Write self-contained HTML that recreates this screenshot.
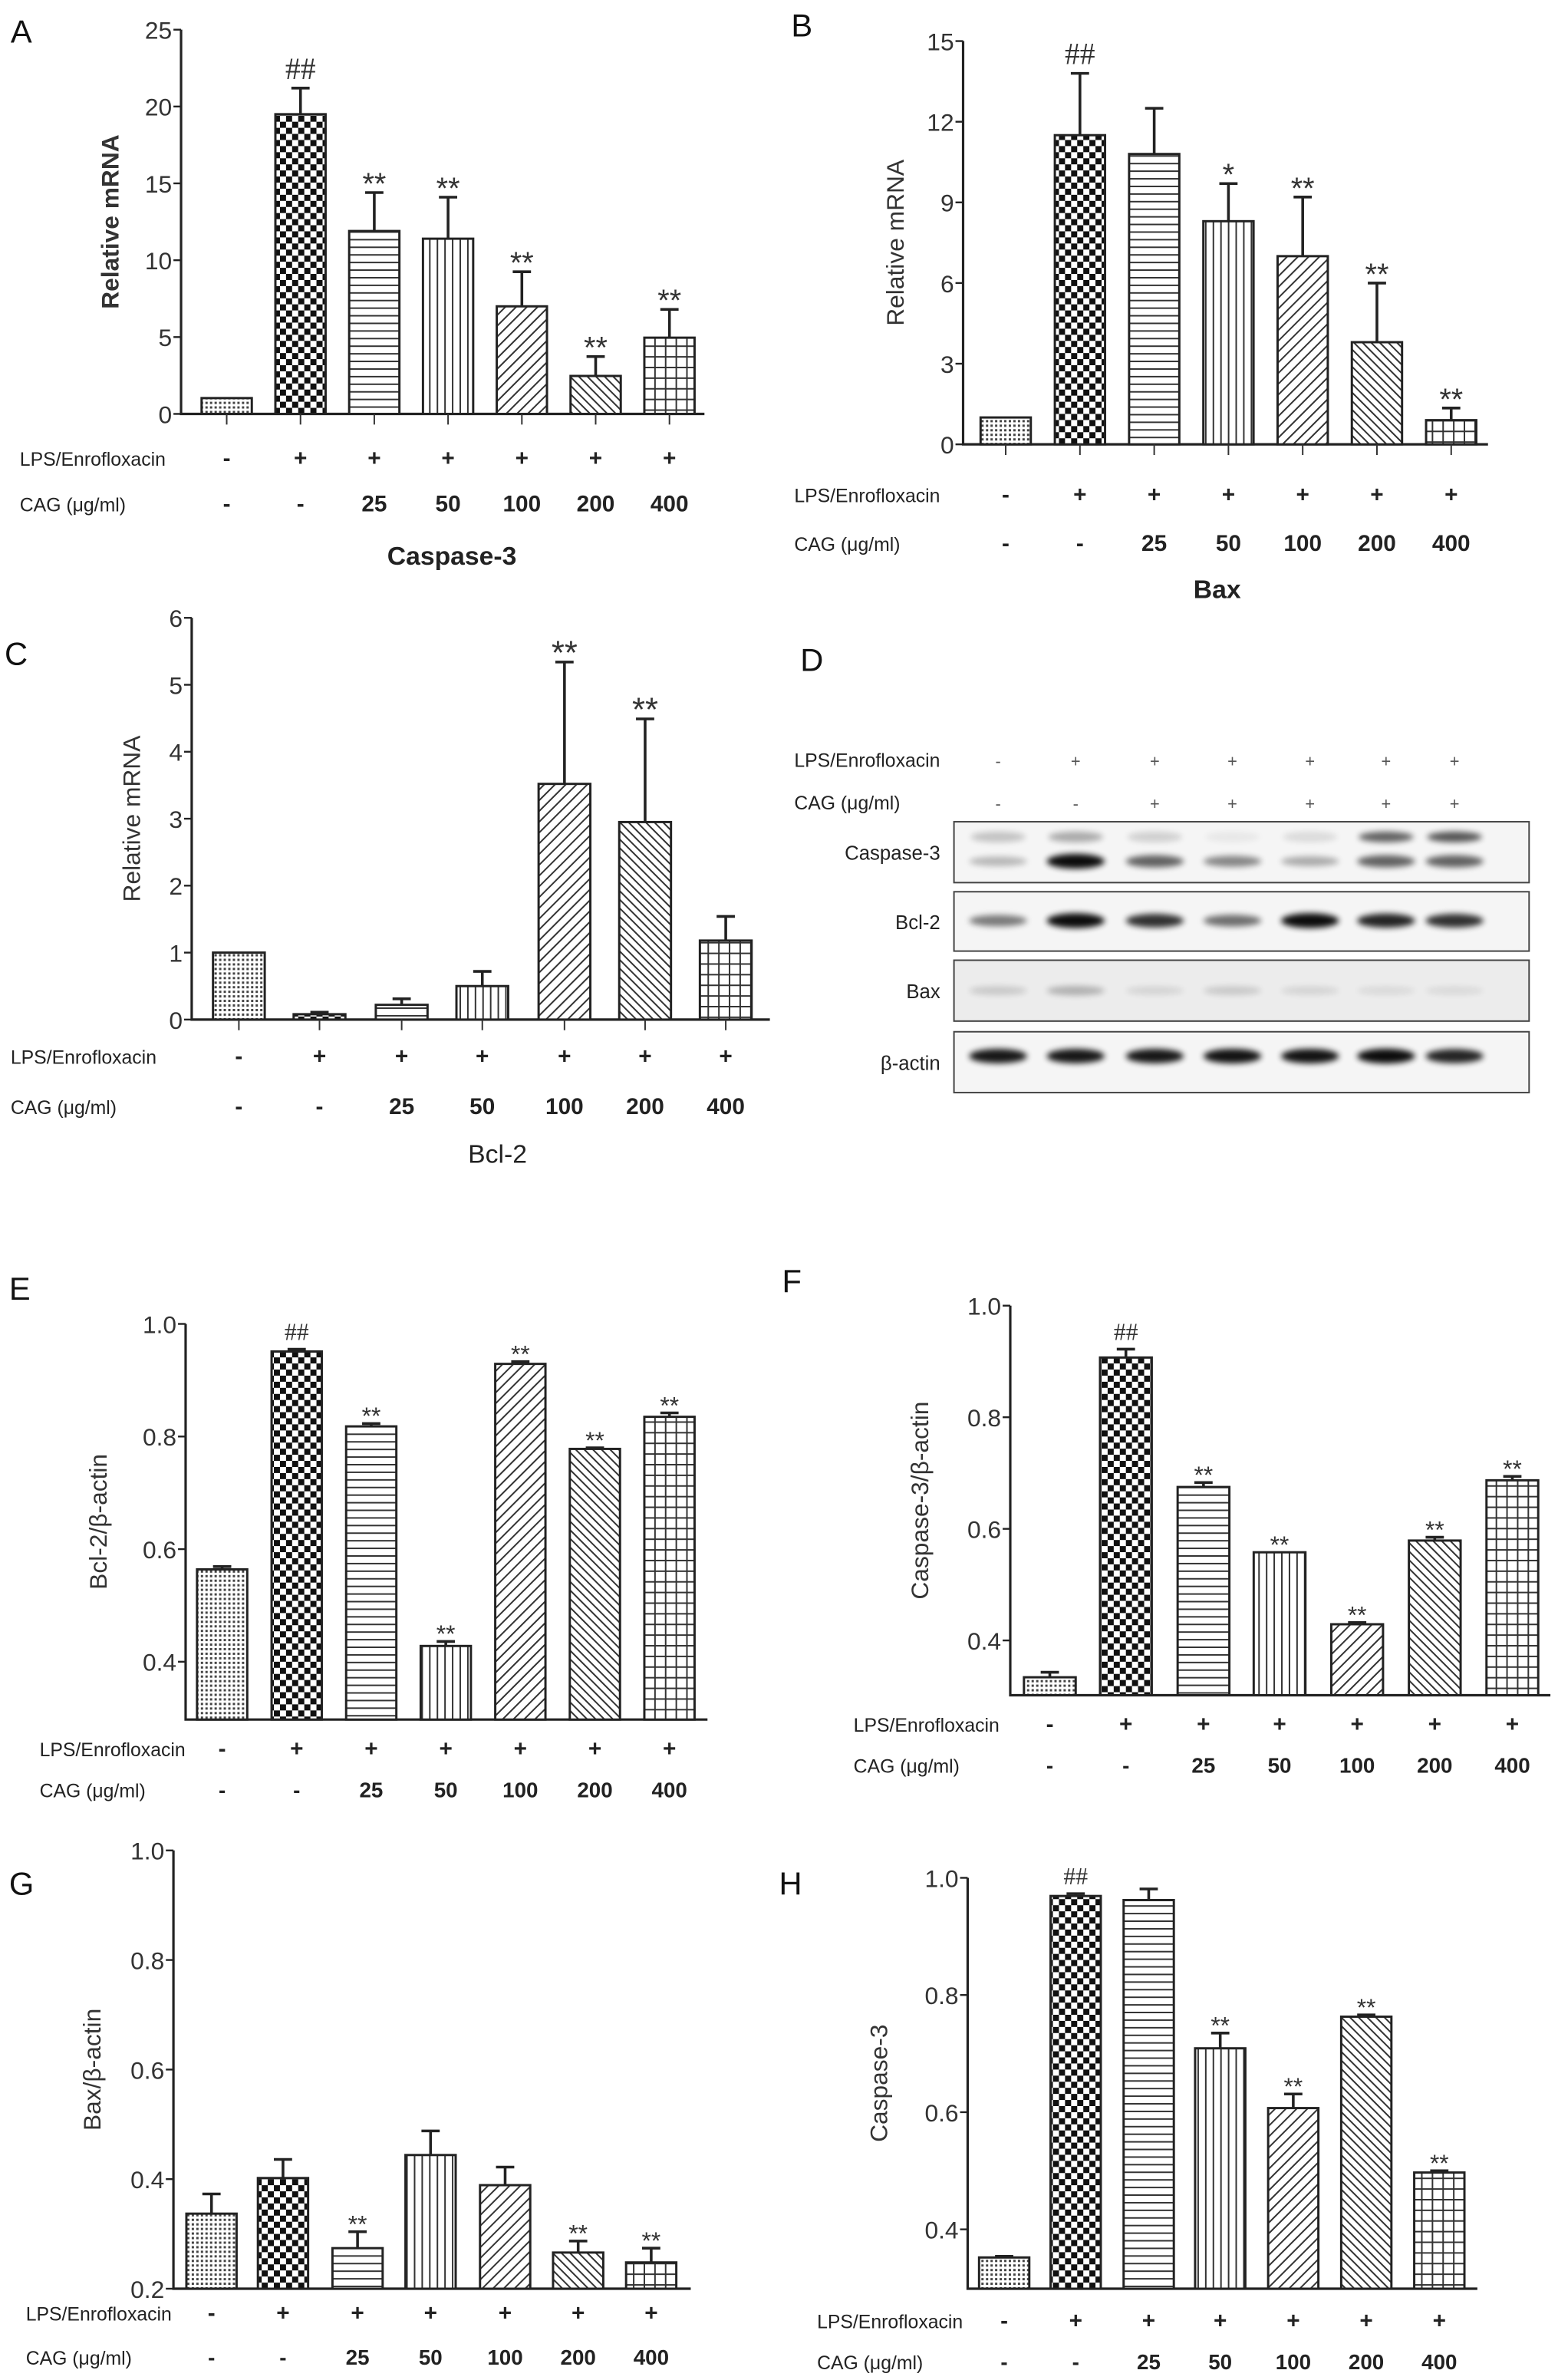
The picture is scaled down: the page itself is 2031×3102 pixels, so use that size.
<!DOCTYPE html>
<html><head><meta charset="utf-8"><style>
html,body{margin:0;padding:0;background:#fff;}
svg{display:block;font-family:"Liberation Sans",Arial,sans-serif;}
</style></head><body>
<svg id="fig" width="2031" height="3102" viewBox="0 0 1024 1564" preserveAspectRatio="none" xmlns="http://www.w3.org/2000/svg">
<defs>
<pattern id="p0" width="3" height="3" patternUnits="userSpaceOnUse"><rect width="3" height="3" fill="#fff"/><rect width="1.5" height="1.5" fill="#444"/></pattern>
<pattern id="p1" width="8" height="8" patternUnits="userSpaceOnUse"><rect width="8" height="8" fill="#fff"/><rect width="4" height="4" fill="#111"/><rect x="4" y="4" width="4" height="4" fill="#111"/></pattern>
<pattern id="p2" width="5" height="5" patternUnits="userSpaceOnUse"><rect width="5" height="5" fill="#fff"/><line x1="0" y1="2.5" x2="5" y2="2.5" stroke="#333" stroke-width="1"/></pattern>
<pattern id="p3" width="5" height="5" patternUnits="userSpaceOnUse"><rect width="5" height="5" fill="#fff"/><line x1="2.5" y1="0" x2="2.5" y2="5" stroke="#333" stroke-width="1"/></pattern>
<pattern id="p4" width="5" height="5" patternUnits="userSpaceOnUse" patternTransform="rotate(45)"><rect width="5" height="5" fill="#fff"/><line x1="2.5" y1="0" x2="2.5" y2="5" stroke="#333" stroke-width="1"/></pattern>
<pattern id="p5" width="4" height="4" patternUnits="userSpaceOnUse" patternTransform="rotate(-45)"><rect width="4" height="4" fill="#fff"/><line x1="2" y1="0" x2="2" y2="4" stroke="#333" stroke-width="1"/></pattern>
<pattern id="p6" width="7" height="7" patternUnits="userSpaceOnUse"><rect width="7" height="7" fill="#fff"/><path d="M0 3.5H7M3.5 0V7" stroke="#333" stroke-width="1"/></pattern>
<filter id="blur" x="-50%" y="-200%" width="200%" height="500%"><feGaussianBlur stdDeviation="2"/></filter>
</defs>
</svg>
<script>
// ---- data ----
const lpsRow = ['-','+','+','+','+','+','+'];
const cagRow = ['-','-','25','50','100','200','400'];
const aVals = [1.03, 19.5, 11.9, 11.4, 7.0, 2.47, 4.96];
const aErr  = [1.03, 21.2, 14.4, 14.1, 9.25, 3.73, 6.8];
const aMarks = ['', '##', '**', '**', '**', '**', '**'];
const aTicks = [0, 5, 10, 15, 20, 25];
const bVals = [1, 11.5, 10.8, 8.3, 7, 3.8, 0.9];
const bErr  = [1, 13.8, 12.5, 9.7, 9.2, 6.0, 1.35];
const bMarks = ['', '##', '', '*', '**', '**', '**'];
const bTicks = [0, 3, 6, 9, 12, 15];
const cVals = [1, 0.08, 0.22, 0.5, 3.52, 2.95, 1.18];
const cErr  = [1, 0.11, 0.31, 0.72, 5.34, 4.49, 1.54];
const cMarks = ['', '', '', '', '**', '**', ''];
const cTicks = [0, 1, 2, 3, 4, 5, 6];
const eVals = [0.564, 0.951, 0.818, 0.428, 0.929, 0.778, 0.835];
const eErr  = [0.569, 0.955, 0.823, 0.436, 0.933, 0.780, 0.842];
const eMarks = ['', '##', '**', '**', '**', '**', '**'];
const eTicks = [0.4, 0.6, 0.8, 1.0];
const fVals = [0.334, 0.907, 0.675, 0.558, 0.429, 0.579, 0.687];
const fErr  = [0.343, 0.922, 0.683, 0.558, 0.432, 0.585, 0.694];
const fMarks = ['', '##', '**', '**', '**', '**', '**'];
const fTicks = [0.4, 0.6, 0.8, 1.0];
const gVals = [0.337, 0.402, 0.274, 0.444, 0.389, 0.266, 0.248];
const gErr  = [0.373, 0.436, 0.304, 0.488, 0.422, 0.287, 0.274];
const gMarks = ['', '', '**', '', '', '**', '**'];
const gTicks = [0.2, 0.4, 0.6, 0.8, 1.0];
const hVals = [0.352, 0.969, 0.962, 0.709, 0.607, 0.763, 0.497];
const hErr  = [0.354, 0.973, 0.981, 0.735, 0.631, 0.766, 0.500];
const hMarks = ['', '##', '', '**', '**', '**', '**'];
const hTicks = [0.4, 0.6, 0.8, 1.0];

const NS = 'http://www.w3.org/2000/svg';
const svg = document.getElementById('fig');
function mk(tag, attrs, parent, txt){
  const e = document.createElementNS(NS, tag);
  for (const k in attrs) e.setAttribute(k, attrs[k]);
  if (txt !== undefined) e.textContent = txt;
  (parent || svg).appendChild(e);
  return e;
}
function fmt(t, dec){ return dec ? t.toFixed(1) : String(t); }

function panel(cfg){
  const g = mk('g', {});
  
  
  const y = v => cfg.y0 - (v - cfg.vmin) * (cfg.y0 - cfg.y1) / (cfg.vmax - cfg.vmin);
  const letter = mk('text', {x: cfg.lx, y: cfg.ly, 'font-size': 21, fill: '#111'}, g, cfg.letter);
  
  
  const ax = mk('path', {d: `M${cfg.ax} ${cfg.y1}V${cfg.ybot}H${cfg.axEnd}`, stroke: '#222', fill: 'none', 'stroke-width': 1.6}, g);
  
  
  cfg.ticks.forEach(t => {
    const yy = y(t);
    mk('line', {x1: cfg.ax - 5, x2: cfg.ax, y1: yy, y2: yy, stroke: '#222', 'stroke-width': 1.2}, g);
    const tl = mk('text', {x: cfg.ax - 6, y: yy + 6, 'font-size': cfg.tfs, 'text-anchor': 'end', fill: '#333'}, g, fmt(t, cfg.dec));
    
    
  });
  const yt = mk('text', {x: 0, y: 0, 'font-size': cfg.yfs || 15, 'text-anchor': 'middle', fill: '#333', 'font-weight': cfg.ybold ? 'bold' : 'normal', transform: `translate(${cfg.ytx},${(cfg.y1 + cfg.ybot) / 2}) rotate(-90)`}, g, cfg.ytitle);
  
  
  cfg.vals.forEach((v, i) => {
    const cx = cfg.xs[i], w = cfg.bw;
    const top = y(v), bot = cfg.ybot;
    const r = mk('rect', {x: cx - w / 2, y: top, width: w, height: Math.max(0, bot - top), fill: `url(#p${i})`, stroke: '#222', 'stroke-width': 1.5}, g);
    
    
    if (cfg.xticks) mk('line', {x1: cx, x2: cx, y1: cfg.ybot, y2: cfg.ybot + 7, stroke: '#333', 'stroke-width': 1}, g);
    const ye = y(cfg.err[i]);
    if (cfg.err[i] > v + 1e-9) {
      const eb = mk('path', {d: `M${cx} ${top}V${ye}M${cx - 6} ${ye}H${cx + 6}`, stroke: '#222', 'stroke-width': 1.8, fill: 'none'}, g);
      
      
    }
    if (cfg.marks[i]) {
      const isHash = cfg.marks[i] === '##';
      const m = mk('text', {x: cx, y: isHash ? ye - 6 : ye - 2 + cfg.mfs * 0.15, 'font-size': cfg.mfs, 'text-anchor': 'middle', fill: '#333', 'font-family': isHash ? '"Liberation Serif", serif' : '"Liberation Sans", sans-serif'}, g, cfg.marks[i]);
      
      
    }
    const l1 = mk('text', {x: cfg.lxs[i], y: cfg.r1 + 5, 'font-size': 15, 'text-anchor': 'middle', fill: '#222', 'font-weight': 'bold'}, g, lpsRow[i]);
    
    
    const l2 = mk('text', {x: cfg.lxs[i], y: cfg.r2 + 5, 'font-size': cfg.cfs || 15, 'text-anchor': 'middle', fill: '#222', 'font-weight': 'bold'}, g, cagRow[i]);
    
    
  });
  const r1 = mk('text', {x: cfg.rx, y: cfg.r1 + 5, 'font-size': 12.5, fill: '#222'}, g, 'LPS/Enrofloxacin');
  
  
  const r2 = mk('text', {x: cfg.rx, y: cfg.r2 + 5, 'font-size': 12.5, fill: '#222'}, g, 'CAG (\u03bcg/ml)');
  
  
  if (cfg.title) {
    const t = mk('text', {x: cfg.tx, y: cfg.ty, 'font-size': 17, 'text-anchor': 'middle', fill: '#222', 'font-weight': cfg.tbold ? 'bold' : 'normal'}, g, cfg.title);
    
    
  }
}
const ax7 = (a, d) => [0,1,2,3,4,5,6].map(i => a + i * d);

panel({name:'panel-a', letter:'A', lx:7, ly:28, ax:119, axEnd:463, y0:272, y1:19.5, ybot:272, vmin:0, vmax:25, ticks:aTicks, tfs:16, ytitle:'Relative mRNA', ytx:78, ybold:true, yfs:16,
  vals:aVals, err:aErr, marks:aMarks, mfs:20, xs:ax7(149,48.5), bw:33, lxs:ax7(149,48.5), r1:301, r2:331, rx:13, title:'Caspase-3', tx:297, ty:371, tbold:true, xticks:true});
panel({name:'panel-b', letter:'B', lx:520, ly:24, ax:633, axEnd:978, y0:292, y1:27, ybot:292, vmin:0, vmax:15, ticks:bTicks, tfs:16, ytitle:'Relative mRNA', ytx:594, ybold:false, yfs:16,
  vals:bVals, err:bErr, marks:bMarks, mfs:20, xs:ax7(661,48.8), bw:33, lxs:ax7(661,48.8), r1:325, r2:357, rx:522, title:'Bax', tx:800, ty:393, tbold:true, xticks:true});
panel({name:'panel-c', letter:'C', lx:3, ly:437, ax:126, axEnd:506, y0:670, y1:406, ybot:670, vmin:0, vmax:6, ticks:cTicks, tfs:16, ytitle:'Relative mRNA', ytx:92, ybold:false, yfs:16,
  vals:cVals, err:cErr, marks:cMarks, mfs:22, xs:[157,210,264,317,371,424,477], bw:34, lxs:[157,210,264,317,371,424,477], r1:694, r2:727, rx:7, title:'Bcl-2', tx:327, ty:764, xticks:true});
panel({name:'panel-e', letter:'E', lx:6, ly:854, ax:122, axEnd:465, y0:1092, y1:870, ybot:1130, vmin:0.4, vmax:1.0, ticks:eTicks, tfs:16, dec:true, ytitle:'Bcl-2/\u03b2-actin', ytx:70, ybold:false, yfs:16,
  vals:eVals, err:eErr, marks:eMarks, mfs:16, xs:ax7(146,49), bw:33, lxs:ax7(146,49), r1:1149, r2:1176, rx:26, cfs:14});
panel({name:'panel-f', letter:'F', lx:514, ly:849, ax:664, axEnd:1019, y0:1078, y1:858, ybot:1114, vmin:0.4, vmax:1.0, ticks:fTicks, tfs:16, dec:true, ytitle:'Caspase-3/\u03b2-actin', ytx:610, ybold:false, yfs:16,
  vals:fVals, err:fErr, marks:fMarks, mfs:16, xs:[690,740,791,841,892,943,994], bw:34, lxs:[690,740,791,841,892,943,994], r1:1133, r2:1160, rx:561, cfs:14});
panel({name:'panel-g', letter:'G', lx:6, ly:1245, ax:114, axEnd:454, y0:1504, y1:1216, ybot:1504, vmin:0.2, vmax:1.0, ticks:gTicks, tfs:16, dec:true, ytitle:'Bax/\u03b2-actin', ytx:66, ybold:false, yfs:16,
  vals:gVals, err:gErr, marks:gMarks, mfs:16, xs:[139,186,235,283,332,380,428], bw:33, lxs:[139,186,235,283,332,380,428], r1:1520, r2:1549, rx:17, cfs:14});
panel({name:'panel-h', letter:'H', lx:512, ly:1245, ax:636, axEnd:971, y0:1465, y1:1234, ybot:1504, vmin:0.4, vmax:1.0, ticks:hTicks, tfs:16, dec:true, ytitle:'Caspase-3', ytx:583, ybold:false, yfs:16,
  vals:hVals, err:hErr, marks:hMarks, mfs:16, xs:[660,707,755,802,850,898,946], bw:33, lxs:[660,707,755,802,850,898,946], r1:1525, r2:1552, rx:537, cfs:14});

// ---- Panel D (western blots) ----
const blotNames = ['Caspase-3', 'Bcl-2', 'Bax', '\u03b2-actin'];
const blotTop = [540, 586, 631, 678];
const blotH = [40, 39, 40, 40];
const bandY = [26, 19, 20, 16];
const blotInt = [
  [0.25, 0.95, 0.6, 0.45, 0.3, 0.6, 0.6],
  [0.5, 0.95, 0.8, 0.55, 0.95, 0.85, 0.8],
  [0.15, 0.25, 0.1, 0.15, 0.1, 0.08, 0.08],
  [0.9, 0.9, 0.9, 0.92, 0.92, 0.95, 0.85]
];
const casUpper = [0.2, 0.3, 0.15, 0.05, 0.1, 0.6, 0.65];
const laneX = [656, 707, 759, 810, 861, 911, 956];
const dg = mk('g', {});


const dl = mk('text', {x: 526, y: 441, 'font-size': 21, fill: '#111'}, dg, 'D');


const dr1 = mk('text', {x: 522, y: 504, 'font-size': 12.5, fill: '#222'}, dg, 'LPS/Enrofloxacin');


const dr2 = mk('text', {x: 522, y: 532, 'font-size': 12.5, fill: '#222'}, dg, 'CAG (\u03bcg/ml)');


laneX.forEach((x, i) => {
  mk('text', {x: x, y: 504, 'font-size': 11, 'text-anchor': 'middle', fill: '#555'}, dg, i === 0 ? '-' : '+');
  mk('text', {x: x, y: 532, 'font-size': 11, 'text-anchor': 'middle', fill: '#555'}, dg, i < 2 ? '-' : '+');
});
blotNames.forEach((n, r) => {
  const box = mk('rect', {x: 627, y: blotTop[r], width: 378, height: blotH[r], fill: r === 2 ? '#ececec' : '#f5f5f5', stroke: '#444', 'stroke-width': 1}, dg);
  
  
  const lb = mk('text', {x: 618, y: blotTop[r] + blotH[r] / 2 + 5, 'font-size': 13, 'text-anchor': 'end', fill: '#222'}, dg, n);
  
  
  laneX.forEach((x, i) => {
    const a = blotInt[r][i];
    const e = mk('ellipse', {cx: x, cy: blotTop[r] + bandY[r], rx: 19, ry: 2.5 + 2.5 * a, fill: '#000', opacity: a, filter: 'url(#blur)'}, dg);
    
    
    if (r === 0) {
      const u = mk('ellipse', {cx: x, cy: blotTop[r] + 10, rx: 18, ry: 3.5, fill: '#000', opacity: casUpper[i], filter: 'url(#blur)'}, dg);
      
      
    }
  });
});
</script>
</body></html>
